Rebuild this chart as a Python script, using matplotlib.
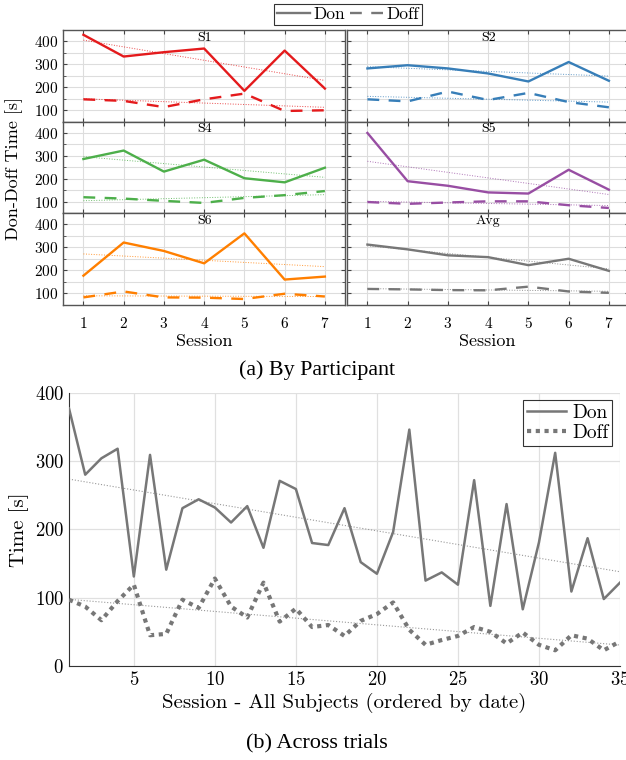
import numpy as np
import matplotlib
matplotlib.use("Agg")
import matplotlib.pyplot as plt
from matplotlib.lines import Line2D

plt.rcParams['font.family'] = ['cmr10', 'DejaVu Serif']
plt.rcParams['axes.formatter.use_mathtext'] = True
plt.rcParams['mathtext.fontset'] = 'cm'

# ---------------- data ----------------
sessions = [1, 2, 3, 4, 5, 6, 7]
panel_names = ["S1", "S2", "S4", "S5", "S6", "Avg"]
panel_colors = ["#e41a1c", "#377eb8", "#4daf4a", "#984ea3", "#ff7f00", "#777777"]

s1_don = [429, 334, 353, 369, 184, 360, 194]
s1_doff = [147, 140, 113, 147, 172, 96, 99]
s2_don = [282, 296, 282, 260, 225, 310, 228]
s2_doff = [147, 138, 181, 144, 175, 135, 112]
s4_don = [286, 323, 231, 283, 202, 184, 248]
s4_doff = [119, 113, 103, 94, 116, 128, 146]
s5_don = [400, 189, 169, 140, 135, 239, 152]
s5_doff = [98, 90, 96, 101, 101, 84, 72]
s6_don = [176, 321, 284, 230, 361, 159, 172]
s6_doff = [81, 107, 81, 80, 74, 97, 85]
avg_don = [312, 291, 265, 257, 222, 250, 197]
avg_doff = [118, 116, 113, 112, 128, 107, 101]

trial_idx = list(range(1, 36))
trial_don = [377, 280, 304, 318, 131, 309, 141, 231, 244, 232, 210, 234, 173, 271, 259,
             180, 177, 231, 152, 135, 196, 346, 125, 137, 119, 272, 88, 237, 83, 181,
             312, 109, 187, 98, 122]
trial_doff = [97, 87, 67, 95, 119, 45, 47, 97, 85, 128, 87, 71, 122, 65, 84,
              57, 60, 44, 66, 76, 93, 53, 31, 38, 44, 57, 50, 33, 49, 31,
              23, 45, 40, 23, 36]

panel_don = [s1_don, s2_don, s4_don, s5_don, s6_don, avg_don]
panel_doff = [s1_doff, s2_doff, s4_doff, s5_doff, s6_doff, avg_doff]

# ---------------- figure ----------------
W, H = 626, 760
fig = plt.figure(figsize=(W / 100, H / 100), dpi=100)

def rect(x0, y0, x1, y1):
    return [x0 / W, 1 - y1 / H, (x1 - x0) / W, (y1 - y0) / H]

col_x = [(63.3, 345.0), (347.3, 629.0)]
row_y = [(30.0, 121.5), (121.5, 213.0), (213.0, 304.5)]
x = np.array(sessions, dtype=float)

for i, name in enumerate(panel_names):
    r, c = divmod(i, 2)
    ax = fig.add_axes(rect(col_x[c][0], row_y[r][0], col_x[c][1], row_y[r][1]))
    col = panel_colors[i]
    don = np.array(panel_don[i], float)
    doff = np.array(panel_doff[i], float)
    ax.plot(x, don, '-', color=col, lw=1.7, zorder=3)
    ax.plot(x, doff, '--', color=col, lw=1.7, dashes=(5, 4), zorder=3)
    for y in (don, doff):
        p = np.polyfit(x, y, 1)
        ax.plot(x, np.polyval(p, x), ':', color=col, lw=0.7, alpha=0.8, zorder=2)
    ax.set_xlim(0.5, 7.5)
    ax.set_ylim(50, 450)
    ax.set_xticks(sessions)
    ax.set_yticks([100, 200, 300, 400])
    ax.set_yticks([50, 150, 250, 350, 450], minor=True)
    ax.grid(True, which='both', color='#dddddd', lw=0.8)
    ax.set_axisbelow(True)
    ax.tick_params(which='both', direction='in', top=True, right=True,
                   labelsize=11, color='#444444', length=3)
    ax.tick_params(axis='x', pad=8.5)
    ax.tick_params(which='minor', length=2)
    for s in ax.spines.values():
        s.set_color('#555555')
        s.set_linewidth(1.0)
    if c == 1:
        ax.set_yticklabels([])
    if r < 2:
        ax.set_xticklabels([])
    ax.text(4, 442, name, ha='center', va='top', fontsize=10)

fig.text(14 / W, 1 - 168 / H, "Don-Doff Time [s]", rotation=90, ha='center', va='center', fontsize=13)
fig.text(204 / W, 1 - 341 / H, "Session", ha='center', va='center', fontsize=13)
fig.text(487 / W, 1 - 341 / H, "Session", ha='center', va='center', fontsize=13)

handles = [Line2D([], [], color='#777777', lw=1.7, ls='-'),
           Line2D([], [], color='#777777', lw=1.7, ls='--', dashes=(5, 4))]
leg = fig.legend(handles, ["Don", "Doff"], loc='upper center', ncol=2,
                 bbox_to_anchor=(348 / W, 1 - 4 / H), fontsize=12.5, frameon=True,
                 fancybox=False, edgecolor='black', handlelength=1.9,
                 columnspacing=0.3, handletextpad=0.2, borderpad=0.15, borderaxespad=0)
leg.get_frame().set_linewidth(0.8)

fig.text(317 / W, 1 - 370 / H, "(a) By Participant", ha='center', va='center',
         fontsize=15.8, family='Liberation Serif')

# ---------------- bottom chart ----------------
ax2 = fig.add_axes(rect(69, 392.7, 620, 666))
t = np.array(trial_idx, float)
don = np.array(trial_don, float)
doff = np.array(trial_doff, float)
ax2.plot(t, don, '-', color='#777777', lw=1.8, label='Don', zorder=3)
ax2.plot(t, doff, ':', color='#777777', lw=3.0, dashes=(1, 1.1), label='Doff', zorder=3)
for y in (don, doff):
    p = np.polyfit(t, y, 1)
    ax2.plot(t, np.polyval(p, t), ':', color='#999999', lw=0.8, zorder=2)
ax2.set_xlim(1, 35)
ax2.set_ylim(0, 400)
ax2.set_xticks([5, 10, 15, 20, 25, 30, 35])
ax2.set_yticks([0, 100, 200, 300, 400])
ax2.grid(True, color='#e0e0e0', lw=0.9)
ax2.set_axisbelow(True)
for s in ('top', 'right'):
    ax2.spines[s].set_visible(False)
for s in ('left', 'bottom'):
    ax2.spines[s].set_color('#333333')
ax2.tick_params(direction='in', labelsize=13.5, length=0)
ax2.set_xlabel("Session - All Subjects (ordered by date)", fontsize=15, labelpad=3)
ax2.set_ylabel("Time [s]", fontsize=15, labelpad=4)
leg2 = ax2.legend(loc='upper right', fontsize=14, fancybox=False, edgecolor='black',
                  handlelength=2.0, handletextpad=0.3, borderpad=0.2,
                  labelspacing=0.1, borderaxespad=0.4)
leg2.get_frame().set_linewidth(0.8)

fig.text(317 / W, 1 - 744 / H, "(b) Across trials", ha='center', va='center',
         fontsize=16, family='Liberation Serif')

fig.savefig("out.png", dpi=100)
